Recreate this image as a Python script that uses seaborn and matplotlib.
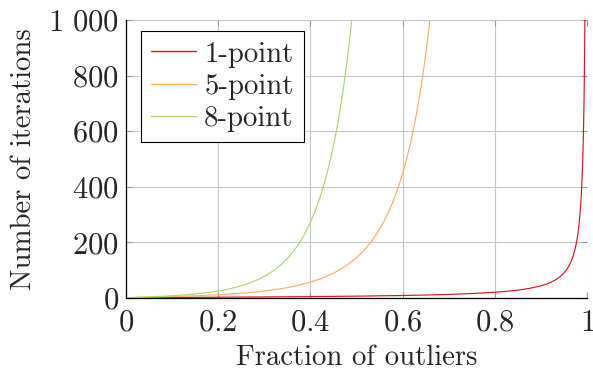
import numpy as np
import pandas as pd
import matplotlib
matplotlib.use("Agg")
import matplotlib.pyplot as plt
import seaborn as sns

# Data (fraction of outliers -> number of iterations)
x_1pt = [0.0, 0.05, 0.1, 0.15, 0.2, 0.3, 0.4, 0.5, 0.6, 0.65, 0.7, 0.75, 0.8, 0.825, 0.85, 0.875,
         0.9, 0.91, 0.92, 0.93, 0.94, 0.95, 0.955, 0.96, 0.965, 0.97, 0.975, 0.978, 0.98, 0.982,
         0.985, 0.987, 0.988, 0.989, 0.99, 0.991, 0.992, 0.9925, 0.993, 0.9935, 0.994, 0.9945,
         0.995, 0.996]
y_1pt = [0.0, 1.54, 2.0, 2.43, 2.86, 3.82, 5.03, 6.64, 9.01, 10.7, 12.9, 16.0, 20.6, 23.9, 28.3, 34.5,
         43.7, 48.8, 55.2, 63.5, 74.4, 89.8, 100.0, 112.8, 129.3, 151.2, 181.9, 207.0, 228.0, 253.5,
         304.7, 351.9, 381.4, 416.3, 458.0, 509.4, 573.3, 611.7, 655.5, 706.2, 765.2, 835.0,
         918.7, 1149.0]

x_5pt = [0.0, 0.025, 0.05, 0.1, 0.15, 0.2, 0.25, 0.275, 0.3, 0.325, 0.35, 0.375, 0.4, 0.425,
         0.45, 0.46, 0.47, 0.475, 0.48, 0.49, 0.5, 0.51, 0.52, 0.53, 0.54, 0.55, 0.56, 0.57,
         0.58, 0.59, 0.6, 0.605, 0.61, 0.615, 0.62, 0.625, 0.63, 0.635, 0.64, 0.645, 0.65,
         0.655, 0.66]
y_5pt = [0.0, 2.16, 3.10, 5.16, 7.85, 11.6, 17.0, 20.6, 25.0, 30.5, 37.3, 46.0, 56.9, 70.9,
         89.2, 98.0, 107.8, 113.1, 118.8, 131.2, 145.0, 160.7, 178.4, 198.5, 221.3, 247.3, 276.9, 310.9,
         350.1, 395.2, 447.4, 476.6, 508.1, 542.1, 578.9, 618.7, 661.8, 708.5, 759.3, 814.5, 874.5,
         939.9, 1011.3]

x_8pt = [0.0, 0.025, 0.05, 0.075, 0.1, 0.125, 0.15, 0.175, 0.2, 0.225, 0.25, 0.275, 0.3, 0.31,
         0.32, 0.33, 0.34, 0.35, 0.36, 0.37, 0.38, 0.39, 0.4, 0.41, 0.42, 0.43, 0.44, 0.45,
         0.455, 0.46, 0.465, 0.47, 0.475, 0.48, 0.485, 0.49]
y_8pt = [0.0, 2.71, 4.23, 6.0, 8.18, 10.9, 14.5, 19.1, 25.1, 33.0, 43.7, 58.0, 77.6, 87.3,
         98.4, 111.1, 125.6, 142.2, 161.3, 183.3, 208.6, 237.9, 271.9, 311.3, 357.3, 411.0, 473.8, 547.7,
         589.3, 634.6, 683.8, 737.3, 795.6, 859.1, 928.3, 1003.9]

series_names = ["1-point", "5-point", "8-point"]
series_colors = ["#d7191c", "#fdae61", "#a6d96a"]

x_ticks = [0, 0.2, 0.4, 0.6, 0.8, 1]
x_tick_labels = [r"$0$", r"$0.2$", r"$0.4$", r"$0.6$", r"$0.8$", r"$1$"]
y_ticks = [0, 200, 400, 600, 800, 1000]
y_tick_labels = [r"$0$", r"$200$", r"$400$", r"$600$", r"$800$", r"$1\ 000$"]

frames = []
for name, xs, ys in zip(series_names, [x_1pt, x_5pt, x_8pt], [y_1pt, y_5pt, y_8pt]):
    frames.append(pd.DataFrame({"x": xs, "y": ys, "series": name}))
df = pd.concat(frames, ignore_index=True)

sns.set_theme(style="white")
plt.rcParams["font.family"] = ["cmr10"]
plt.rcParams["mathtext.fontset"] = "cm"
plt.rcParams["axes.formatter.use_mathtext"] = True

fig = plt.figure(figsize=(5.93, 3.72), dpi=100)
ax = fig.add_axes([126 / 593, 1 - 298 / 372, (587 - 126) / 593, (298 - 20) / 372])

sns.lineplot(data=df, x="x", y="y", hue="series", hue_order=series_names,
             palette=series_colors, estimator=None, sort=False, linewidth=0.85, ax=ax)

ax.set_xlim(0, 1)
ax.set_ylim(0, 1000)
ax.set_xticks(x_ticks)
ax.set_xticklabels(x_tick_labels)
ax.set_yticks(y_ticks)
ax.set_yticklabels(y_tick_labels)
ax.grid(True, color="#c8c8c8", linewidth=0.8)
ax.set_axisbelow(True)

for side in ["top", "right"]:
    ax.spines[side].set_visible(False)
for side in ["left", "bottom"]:
    ax.spines[side].set_color("black")
    ax.spines[side].set_linewidth(0.9)

ax.tick_params(axis="both", direction="in", length=4, width=0.8, color="#999999",
               labelsize=22, top=True, right=True, bottom=True, left=True)
ax.tick_params(axis="x", pad=8)
ax.tick_params(axis="y", pad=5)
ax.set_xlabel("Fraction of outliers", fontsize=20.7, labelpad=6)
ax.set_ylabel("Number of iterations", fontsize=20.7, labelpad=8)

leg = ax.legend(loc="upper left", bbox_to_anchor=(0.0325, 0.96), borderaxespad=0,
                fontsize=20.7, frameon=True, fancybox=False, edgecolor="black",
                framealpha=1, handlelength=1.55, handletextpad=0.3, labelspacing=0.2,
                borderpad=0.35)
leg.get_frame().set_linewidth(0.8)
for line, col in zip(leg.get_lines(), series_colors):
    line.set_linewidth(1.0)
    line.set_color(col)

fig.savefig("out.png", dpi=100)
